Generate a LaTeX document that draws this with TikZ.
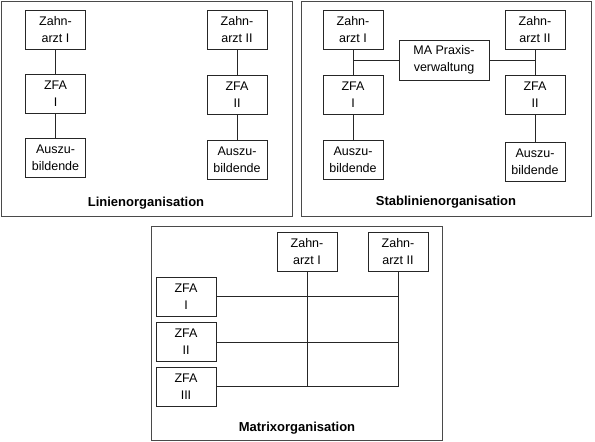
\documentclass[tikz,border=0pt]{standalone}
\usepackage{fontspec}
\setmainfont{Liberation Sans}
\usepackage{tikz}
\usetikzlibrary{calc}
\definecolor{framegray}{HTML}{4A4A4A}
\definecolor{boxline}{HTML}{262626}

\begin{document}
\begin{tikzpicture}[x=1pt, y=-1pt, every node/.style={font=\fontsize{12.5}{17}\selectfont},
    box/.style={draw=boxline, line width=0.7pt, align=center, minimum width=60pt, minimum height=39pt, inner sep=0pt},
    panel/.style={draw=framegray, line width=1pt},
    caption/.style={font=\fontsize{13}{15}\selectfont\bfseries},
    link/.style={draw=boxline, line width=0.7pt}]
    \useasboundingbox (0,0) rectangle (595,442);
    % Linienorganisation
    \draw[panel] (1.5,1.5) rectangle (292,216.5);
    \node[box] (lza1) at (55.5,29.5) {Zahn-\\arzt I};
    \node[box] (lzfa1) at (55.5,93.5) {ZFA\\I};
    \node[box] (lazubi1) at (55.5,158) {Auszu-\\bildende};
    \node[box] (lza2) at (237,29.5) {Zahn-\\arzt II};
    \node[box] (lzfa2) at (237,94.5) {ZFA\\II};
    \node[box] (lazubi2) at (237,160) {Auszu-\\bildende};
    \node[caption] (lcap) at (146,203) {Linienorganisation};
    \draw[link] (lza1) -- (lzfa1);
    \draw[link] (lzfa1) -- (lazubi1);
    \draw[link] (lza2) -- (lzfa2);
    \draw[link] (lzfa2) -- (lazubi2);
    % Stablinienorganisation
    \draw[panel] (301.5,1.5) rectangle (591,216.5);
    \node[box] (sza1) at (353,29.5) {Zahn-\\arzt I};
    \node[box] (szfa1) at (353,94.5) {ZFA\\I};
    \node[box] (sazubi1) at (353,159.5) {Auszu-\\bildende};
    \node[box, minimum width=90pt, minimum height=40pt] (sma) at (444,60) {MA Praxis-\\verwaltung};
    \node[box] (sza2) at (535,29.5) {Zahn-\\arzt II};
    \node[box] (szfa2) at (535,95) {ZFA\\II};
    \node[box] (sazubi2) at (535,161.5) {Auszu-\\bildende};
    \node[caption] (scap) at (446,202) {Stablinienorganisation};
    \draw[link] (sza1) -- (szfa1);
    \draw[link] (szfa1) -- (sazubi1);
    \draw[link] (sza2) -- (szfa2);
    \draw[link] (szfa2) -- (sazubi2);
    \draw[link] (sma) -- (sma -| sza1);
    \draw[link] (sma) -- (sma -| sza2);
    % Matrixorganisation
    \draw[panel] (151.7,226.5) rectangle (442,440);
    \node[box] (mza1) at (307,251.5) {Zahn-\\arzt I};
    \node[box] (mza2) at (398,251.5) {Zahn-\\arzt II};
    \node[box] (mzfa1) at (186,296.5) {ZFA\\I};
    \node[box] (mzfa2) at (186,342) {ZFA\\II};
    \node[box] (mzfa3) at (186,386.5) {ZFA\\III};
    \node[caption] (mcap) at (297,428) {Matrixorganisation};
    \draw[link] (mzfa1) -- (mzfa1 -| mza2);
    \draw[link] (mzfa2) -- (mzfa2 -| mza2);
    \draw[link] (mzfa3) -- (mzfa3 -| mza2);
    \draw[link] (mza1) -- (mza1 |- mzfa3);
    \draw[link] (mza2) -- (mza2 |- mzfa3);
\end{tikzpicture}
\end{document}
